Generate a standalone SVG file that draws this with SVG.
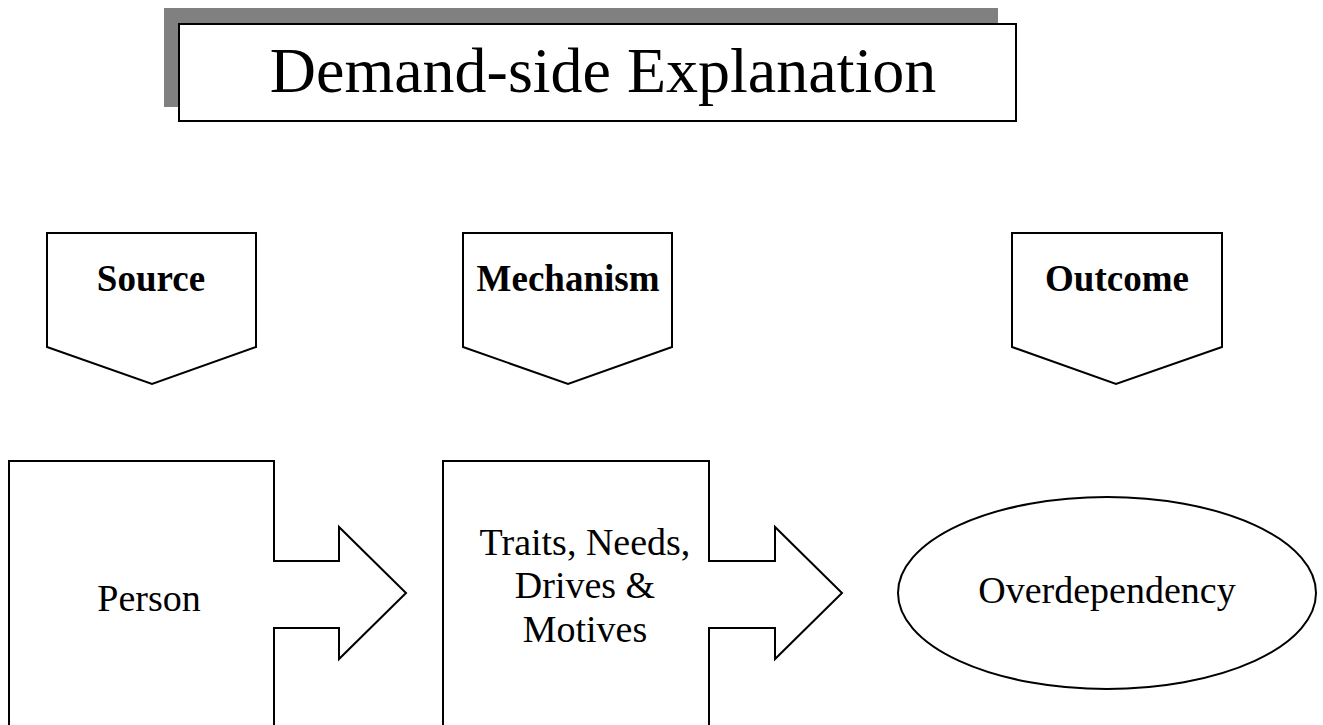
<svg xmlns="http://www.w3.org/2000/svg" width="1323" height="725" viewBox="0 0 1323 725">
<style>
.s{fill:#fff;stroke:#000;stroke-width:2;stroke-linejoin:miter}
.t{font-family:"Liberation Serif","Times New Roman",serif;fill:#000;text-anchor:middle}
.b{font-weight:bold;font-size:37px}
.r{font-size:38px}
</style>
<rect width="1323" height="725" fill="#fff"/>
<g id="title">
<rect x="164" y="8" width="834" height="99" fill="#808080"/>
<rect class="s" x="179" y="24" width="837" height="97"/>
<text class="t" x="603" y="92" font-size="64">Demand-side Explanation</text>
</g>
<g id="hdr-source">
<polygon class="s" points="47,233 256,233 256,347 152,384 47,347"/>
<text class="t b" x="151" y="291">Source</text>
</g>
<g id="hdr-mechanism">
<polygon class="s" points="463,233 672,233 672,347 568,384 463,347"/>
<text class="t b" x="568" y="291">Mechanism</text>
</g>
<g id="hdr-outcome">
<polygon class="s" points="1012,233 1222,233 1222,347 1116,384 1012,347"/>
<text class="t b" x="1117" y="291">Outcome</text>
</g>
<g id="person">
<polygon class="s" points="9,730 9,461 274,461 274,561 339,561 339,527 406,593 339,659 339,628 274,628 274,730"/>
<text class="t r" x="149" y="611">Person</text>
</g>
<g id="mechanism">
<polygon class="s" points="443,730 443,461 709,461 709,561 775,561 775,527 842,593 775,659 775,628 709,628 709,730"/>
<text class="t r" x="585" y="555">Traits, Needs,</text>
<text class="t r" x="585" y="598">Drives &amp;</text>
<text class="t r" x="585" y="642">Motives</text>
</g>
<g id="outcome">
<ellipse class="s" cx="1107" cy="593" rx="209" ry="96"/>
<text class="t r" x="1107" y="603">Overdependency</text>
</g>
<g id="connectors"></g>
</svg>
